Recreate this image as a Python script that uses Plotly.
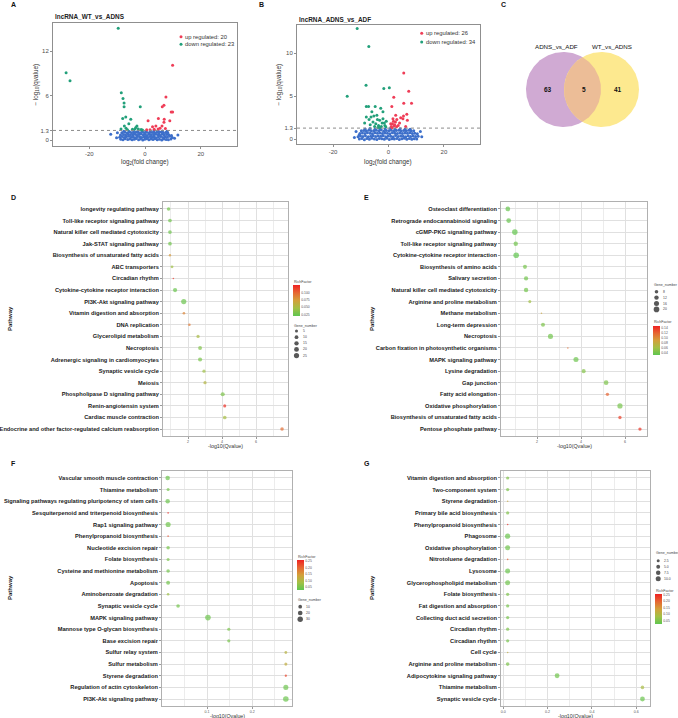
import numpy as np
import plotly.graph_objects as go

W, H = 678, 718
FONT = "Liberation Sans, Arial, sans-serif"

# ============================ DATA ============================
# ---- Panel A volcano (log2 fold change, -log10 qvalue)
a_title = "lncRNA_WT_vs_ADNS"
a_up_x = [9.9, 7.5, 6.8, 6.2, 9.9, 9.4, 4.8, 6.9, 6.8, 1.1, 3.9, 2.7, 5.4, 6.1, 4.7, 3.3, 8.9, 1.8, 7.3, 0.6]
a_up_y = [10.1, 5.8, 4.7, 4.5, 3.8, 3.8, 2.9, 2.8, 2.4, 2.6, 1.9, 1.8, 1.6, 1.9, 1.5, 1.45, 2.6, 1.4, 1.55, 1.38]
a_dn_x = [-9.6, -28.3, -26.9, -8.5, -7.9, -7.5, -7.5, -1.7, -6.9, -8.0, -5.1, -7.4, -3.3, -3.6, -6.8, -4.5,
          -2.4, -1.4, -8.6, -5.8, -2.9, -0.9, -6.3]
a_dn_y = [15.1, 9.1, 8.0, 6.4, 5.6, 5.0, 4.5, 4.5, 3.1, 2.9, 2.8, 1.9, 1.7, 1.5, 1.6, 1.45,
          1.5, 1.42, 1.5, 2.2, 1.9, 1.35, 1.38]
a_blue_x = [-8.7, -7.9, -7.1, -6.2, -5.4, -4.6, -3.8, -3.1, -2.3, -1.6, -0.8, -0.1, 0.6, 1.4, 2.1, 2.9, 3.6, 4.4, 5.2, 6.0, 6.8, 7.6, 8.4, 9.3,
            -9.1, -8.2, -7.4, -6.7, -5.9, -5.0, -4.2, -3.5, -2.7, -1.9, -1.2, -0.4, 0.3, 1.0, 1.8, 2.5, 3.3, 4.0, 4.8, 5.6, 6.4, 7.2, 8.0, 8.9, 9.8,
            -8.8, -7.7, -6.9, -6.0, -5.2, -4.4, -3.6, -2.9, -2.1, -1.4, -0.6, 0.1, 0.8, 1.6, 2.3, 3.1, 3.8, 4.6, 5.3, 6.1, 6.9, 7.8, 8.6, 9.5,
            -8.3, -7.2, -6.4, -5.5, -4.8, -3.9, -3.2, -2.5, -1.7, -0.9, -0.2, 0.5, 1.3, 2.0, 2.8, 3.5, 4.2, 5.0, 5.8, 6.6, 7.4, 8.2,
            -7.6, -5.7, -4.1, -2.6, -1.1, 0.4, 1.9, 3.2, 4.9, 6.3, 7.9,
            -12.3, 11.8, -10.2, 10.6, -9.9]
a_blue_y = [0.12, 0.05, 0.18, 0.08, 0.15, 0.03, 0.11, 0.2, 0.06, 0.14, 0.02, 0.1, 0.17, 0.04, 0.13, 0.08, 0.19, 0.06, 0.12, 0.02, 0.15, 0.09, 0.05, 0.14,
            0.38, 0.47, 0.35, 0.44, 0.5, 0.37, 0.43, 0.33, 0.48, 0.4, 0.36, 0.46, 0.42, 0.34, 0.49, 0.39, 0.45, 0.32, 0.41, 0.47, 0.36, 0.44, 0.38, 0.5, 0.35,
            0.7, 0.76, 0.66, 0.8, 0.72, 0.68, 0.78, 0.64, 0.74, 0.81, 0.69, 0.75, 0.63, 0.79, 0.71, 0.67, 0.77, 0.73, 0.65, 0.8, 0.7, 0.74, 0.68, 0.62,
            0.98, 1.05, 0.95, 1.08, 1.0, 0.96, 1.06, 1.02, 0.94, 1.09, 0.99, 1.04, 0.97, 1.07, 1.01, 0.93, 1.05, 0.99, 1.08, 0.96, 1.03, 0.95,
            1.2, 1.16, 1.24, 1.18, 1.22, 1.15, 1.21, 1.25, 1.17, 1.23, 1.19,
            0.8, 0.7, 0.3, 0.25, 1.0]

# ---- Panel B volcano
b_title = "lncRNA_ADNS_vs_ADF"
b_up_x = [5.5, 7.3, 1.9, 5.5, 8.3, 1.2, 2.6, 5.4, 6.6, 5.2, 1.6, 1.4, 2.2, 2.5, 3.5, 6.2, 4.4, 1.0, 1.8, 2.9,
          3.0, 4.0, 1.3, 2.0, 6.8, 0.8]
b_up_y = [7.7, 5.6, 4.9, 4.2, 4.2, 3.8, 2.8, 2.7, 2.9, 2.4, 2.4, 1.8, 1.7, 2.0, 1.6, 1.5, 2.5, 1.5, 2.1, 1.45,
          2.3, 1.9, 1.35, 1.55, 2.2, 1.8]
b_dn_x = [-11.3, -7.1, -8.1, -14.9, -1.7, 0.3, -8.0, -7.2, -4.8, -2.8, -8.0, -6.0, -6.3, -5.3, -4.2, -2.0, -3.2,
          -2.0, -1.5, -1.3, -7.0, -5.6, -4.6, -3.6, -2.6, -6.6, -4.0, -2.3, -5.0, -3.1, -1.0, -8.6, -0.8, -3.8]
b_dn_y = [12.9, 10.8, 6.3, 5.0, 5.9, 6.0, 3.8, 3.8, 3.8, 3.6, 2.6, 3.2, 2.6, 2.7, 2.8, 2.4, 2.2,
          3.2, 1.9, 1.6, 2.3, 2.0, 1.8, 1.6, 1.5, 1.7, 2.3, 1.9, 1.5, 1.4, 1.45, 1.9, 2.1, 1.38]
b_blue_x = [-10.5, -9.6, -8.7, -7.8, -6.9, -6.0, -5.1, -4.2, -3.3, -2.4, -1.5, -0.6, 0.3, 1.2, 2.1, 3.0, 3.9, 4.8, 5.7, 6.6, 7.5, 8.4, 9.3, 10.2,
            -11.0, -10.1, -9.2, -8.3, -7.3, -6.4, -5.5, -4.6, -3.7, -2.8, -1.9, -1.0, -0.1, 0.8, 1.7, 2.6, 3.5, 4.4, 5.3, 6.2, 7.1, 8.0, 8.9, 9.8, 10.7,
            -10.3, -9.4, -8.5, -7.6, -6.6, -5.8, -4.9, -4.0, -3.1, -2.2, -1.3, -0.4, 0.5, 1.4, 2.3, 3.2, 4.1, 5.0, 5.9, 6.8, 7.7, 8.6, 9.5, 10.4,
            -9.8, -8.9, -8.0, -7.1, -6.2, -5.3, -4.4, -3.5, -2.6, -1.7, -0.8, 0.1, 1.0, 1.9, 2.8, 3.7, 4.6, 5.5, 6.4, 7.3, 8.2, 9.1,
            -8.4, -6.7, -4.9, -3.0, -1.2, 0.6, 2.4, 4.2, 6.0, 7.8,
            -11.7, 11.5, -10.6, -12.3, 12.0]
b_blue_y = [0.02, 0.1, -0.05, 0.08, 0.0, 0.12, 0.04, -0.03, 0.09, 0.06, 0.0, 0.11, -0.02, 0.07, 0.03, 0.1, -0.04, 0.05, 0.12, 0.01, 0.08, -0.01, 0.06, 0.03,
            0.3, 0.38, 0.33, 0.4, 0.29, 0.36, 0.42, 0.31, 0.37, 0.34, 0.41, 0.28, 0.39, 0.35, 0.3, 0.43, 0.32, 0.38, 0.36, 0.29, 0.4, 0.33, 0.37, 0.31, 0.35,
            0.66, 0.72, 0.68, 0.75, 0.7, 0.64, 0.77, 0.69, 0.73, 0.67, 0.74, 0.71, 0.65, 0.76, 0.7, 0.68, 0.74, 0.66, 0.72, 0.69, 0.75, 0.67, 0.71, 0.63,
            0.98, 1.03, 0.95, 1.06, 1.0, 0.97, 1.04, 0.99, 1.07, 0.94, 1.02, 0.98, 1.05, 0.96, 1.01, 1.06, 0.97, 1.03, 0.99, 1.05, 0.95, 1.0,
            1.2, 1.24, 1.17, 1.22, 1.19, 1.25, 1.18, 1.23, 1.21, 1.16,
            0.9, 0.9, 0.5, 0.2, 0.3]

vol_xticks = [-20, 0, 20]
a_yticks = [0, 1.3, 6, 12]
b_yticks = [0, 1.3, 5, 10]
qvalue_cut = 1.3

# ---- Panel C Venn
venn_names = ["ADNS_vs_ADF", "WT_vs_ADNS"]
venn_counts = [63, 5, 41]   # left only, shared, right only

# ---- Panel D KEGG bubble
d_labels = ["longevity regulating pathway", "Toll-like receptor signaling pathway",
            "Natural killer cell mediated cytotoxicity", "Jak-STAT signaling pathway",
            "Biosynthesis of unsaturated fatty acids", "ABC transporters", "Circadian rhythm",
            "Cytokine-cytokine receptor interaction", "PI3K-Akt signaling pathway",
            "Vitamin digestion and absorption", "DNA replication", "Glycerolipid metabolism", "Necroptosis",
            "Adrenergic signaling in cardiomyocytes", "Synaptic vesicle cycle", "Meiosis",
            "Phospholipase D signaling pathway", "Renin-angiotensin system", "Cardiac muscle contraction",
            "Endocrine and other factor-regulated calcium reabsorption"]
d_q = [0.86, 0.94, 0.94, 0.94, 0.94, 1.06, 1.14, 1.24, 1.75, 1.76, 2.08, 2.59, 2.71, 2.71, 2.94, 3.00, 4.04, 4.16, 4.16, 7.53]
d_rich = [0.028, 0.027, 0.026, 0.027, 0.075, 0.045, 0.118, 0.024, 0.025, 0.085, 0.090, 0.050, 0.033, 0.030, 0.045,
          0.055, 0.032, 0.120, 0.048, 0.095]
d_genes = [8, 9, 9, 9, 2, 4, 1, 14, 25, 3, 3, 6, 11, 13, 6, 6, 13, 5, 9, 8]
d_xticks = [2, 4, 6]
d_xminor = [1, 3, 5, 7]
d_rich_ticks = [0.025, 0.050, 0.075, 0.100]
d_rich_text = ["0.025", "0.050", "0.075", "0.100"]
d_gene_breaks = [5, 10, 15, 20, 25]
d_gene_text = ["5", "10", "15", "20", "25"]

# ---- Panel E
e_labels = ["Osteoclast differentiation", "Retrograde endocannabinoid signaling", "cGMP-PKG signaling pathway",
            "Toll-like receptor signaling pathway", "Cytokine-cytokine receptor interaction",
            "Biosynthesis of amino acids", "Salivary secretion", "Natural killer cell mediated cytotoxicity",
            "Arginine and proline metabolism", "Methane metabolism", "Long-term depression", "Necroptosis",
            "Carbon fixation in photosynthetic organisms", "MAPK signaling pathway", "Lysine degradation",
            "Gap junction", "Fatty acid elongation", "Oxidative phosphorylation",
            "Biosynthesis of unsaturated fatty acids", "Pentose phosphate pathway"]
e_q = [0.67, 0.71, 0.99, 1.03, 1.05, 1.45, 1.50, 1.50, 1.67, 2.20, 2.27, 2.61, 3.40, 3.77, 4.12, 5.14, 5.20, 5.77, 5.77, 6.68]
e_rich = [0.035, 0.036, 0.034, 0.040, 0.033, 0.042, 0.040, 0.041, 0.060, 0.085, 0.045, 0.040, 0.115, 0.038, 0.048,
          0.045, 0.120, 0.042, 0.135, 0.140]
e_genes = [14, 14, 20, 12, 20, 10, 11, 12, 6, 4, 10, 16, 4, 16, 10, 14, 7, 17, 7, 7]
e_xticks = [2, 4, 6]
e_xminor = [1, 3, 5, 7]
e_rich_ticks = [0.04, 0.06, 0.08, 0.10, 0.12, 0.14]
e_rich_text = ["0.04", "0.06", "0.08", "0.10", "0.12", "0.14"]
e_gene_breaks = [8, 12, 16, 20]
e_gene_text = ["8", "12", "16", "20"]

# ---- Panel F
f_labels = ["Vascular smooth muscle contraction", "Thiamine metabolism",
            "Signaling pathways regulating pluripotency of stem cells",
            "Sesquiterpenoid and triterpenoid biosynthesis", "Rap1 signaling pathway",
            "Phenylpropanoid biosynthesis", "Nucleotide excision repair", "Folate biosynthesis",
            "Cysteine and methionine metabolism", "Apoptosis", "Aminobenzoate degradation",
            "Synaptic vesicle cycle", "MAPK signaling pathway", "Mannose type O-glycan biosynthesis",
            "Base excision repair", "Sulfur relay system", "Sulfur metabolism", "Styrene degradation",
            "Regulation of actin cytoskeleton", "PI3K-Akt signaling pathway"]
f_q = [0.013, 0.014, 0.013, 0.014, 0.014, 0.014, 0.014, 0.014, 0.014, 0.014, 0.014, 0.036, 0.102, 0.148, 0.148,
       0.274, 0.274, 0.274, 0.274, 0.274]
f_rich = [0.040, 0.045, 0.038, 0.250, 0.042, 0.220, 0.048, 0.050, 0.045, 0.045, 0.080, 0.045, 0.040, 0.050, 0.048,
          0.110, 0.120, 0.230, 0.040, 0.038]
f_genes = [18, 5, 17, 1, 26, 1, 8, 5, 9, 12, 3, 9, 33, 6, 6, 4, 5, 2, 25, 33]
f_xticks = [0.1, 0.2]
f_xminor = [0.05, 0.15, 0.25]
f_rich_ticks = [0.05, 0.10, 0.15, 0.20, 0.25]
f_rich_text = ["0.05", "0.10", "0.15", "0.20", "0.25"]
f_gene_breaks = [10, 20, 30]
f_gene_text = ["10", "20", "30"]

# ---- Panel G
g_labels = ["Vitamin digestion and absorption", "Two-component system", "Styrene degradation",
            "Primary bile acid biosynthesis", "Phenylpropanoid biosynthesis", "Phagosome",
            "Oxidative phosphorylation", "Nitrotoluene degradation", "Lysosome",
            "Glycerophospholipid metabolism", "Folate biosynthesis", "Fat digestion and absorption",
            "Collecting duct acid secretion", "Circadian rhythm", "Circadian rhythm", "Cell cycle",
            "Arginine and proline metabolism", "Adipocytokine signaling pathway", "Thiamine metabolism",
            "Synaptic vesicle cycle"]
g_q = [0.02, 0.02, 0.02, 0.02, 0.02, 0.02, 0.02, 0.02, 0.02, 0.02, 0.02, 0.02, 0.02, 0.02, 0.02, 0.02, 0.02,
       0.243, 0.628, 0.628]
g_rich = [0.05, 0.045, 0.12, 0.05, 0.24, 0.03, 0.035, 0.20, 0.03, 0.035, 0.045, 0.04, 0.04, 0.045, 0.04, 0.11,
          0.045, 0.035, 0.085, 0.03]
g_genes = [3, 3, 1, 3, 1, 11, 10, 1, 10, 10, 3, 3, 3, 3, 3, 1, 4, 9, 4, 9]
g_xticks = [0.0, 0.2, 0.4, 0.6]
g_xminor = [0.1, 0.3, 0.5]
g_rich_ticks = [0.05, 0.10, 0.15, 0.20, 0.25]
g_rich_text = ["0.05", "0.10", "0.15", "0.20", "0.25"]
g_gene_breaks = [2.5, 5.0, 7.5, 10.0]
g_gene_text = ["2.5", "5.0", "7.5", "10.0"]

# ============================ STYLE ============================
BLUE, GREEN, RED = "#3d6fca", "#22a07a", "#ef3d57"
RICH_SCALE = [[0.0, "#5fc650"], [0.25, "#a3c046"], [0.5, "#d3a03a"], [0.75, "#e66632"], [1.0, "#ef2222"]]
BORDER = "#b0b0b0"
GRID = "#e0e0e0"
GRID_MINOR = "#ececec"
V_PURPLE, V_YELLOW, V_LENS = "#d0aad3", "#fde98f", "#ecbd97"
DMIN = 1.6

fig = go.Figure()
layout = {}
annotations = []
shapes = []


def X(p):
    return p / W


def Y(p):
    return 1 - p / H


def sfx(n):
    return "" if n == 1 else str(n)


def text(x, y, s, size, anchor="center", color="#222", angle=0, bold=False):
    annotations.append(dict(x=X(x), y=Y(y), xref="paper", yref="paper", text=s, showarrow=False,
                            xanchor=anchor, yanchor="middle", textangle=angle, borderpad=0,
                            font=dict(family=FONT, size=size, color=color,
                                      weight="bold" if bold else "normal")))


def overlay(xs, ys, **kw):
    fig.add_trace(go.Scatter(x=list(xs), y=list(ys), xaxis="x8", yaxis="y8", hoverinfo="skip", **kw))


def vol_axis(**kw):
    d = dict(showline=True, mirror=True, linecolor="#8f8f8f", linewidth=1, ticks="outside", ticklen=2,
             tickwidth=1, tickcolor="#8f8f8f", tickfont=dict(family=FONT, size=6, color="#4d4d4d"),
             showgrid=False, zeroline=False, fixedrange=True)
    d.update(kw)
    return d


def volcano(n, box, xr, yr, yt, blue, up, dn, title, title_y, leg, ytitle_x):
    x0, y0, x1, y1 = box
    s = sfx(n)
    layout["xaxis" + s] = vol_axis(domain=[X(x0), X(x1)], range=xr, anchor="y" + s,
                                   tickvals=vol_xticks, ticktext=[str(v) for v in vol_xticks])
    layout["yaxis" + s] = vol_axis(domain=[Y(y1), Y(y0)], range=yr, anchor="x" + s,
                                   tickvals=yt, ticktext=[f"{v:g}" for v in yt])
    for (xs, ys), c in ((blue, BLUE), (dn, GREEN), (up, RED)):
        fig.add_trace(go.Scatter(x=xs, y=ys, mode="markers", marker=dict(size=3, color=c),
                                 xaxis="x" + s, yaxis="y" + s, hoverinfo="skip"))
    shapes.append(dict(type="line", xref=f"x{s} domain", x0=0, x1=1, yref="y" + s, y0=qvalue_cut,
                       y1=qvalue_cut, line=dict(color="#8c8c8c", width=1, dash="dot")))
    text(x0 + 1, title_y, title, 6.4, anchor="left", bold=True, color="#222")
    text(ytitle_x, (y0 + y1) / 2, "− log<sub>10</sub>(qvalue)", 6.3, angle=-90, color="#333")
    text((x0 + x1) / 2, 162, "log<sub>2</sub>(fold change)", 6.3, color="#333")
    lx, ly, dy = leg
    overlay([lx, lx], [ly, ly + dy], mode="markers", marker=dict(size=3, color=[RED, GREEN]))
    text(lx + 3.5, ly, f"up regulated: {len(up[0])}", 5.8, anchor="left", color="#333")
    text(lx + 3.5, ly + dy, f"down regulated: {len(dn[0])}", 5.8, anchor="left", color="#333")


def size_fn(g, gmin, gmax, dmax):
    g = np.asarray(g, float)
    return DMIN + np.sqrt(np.clip((g - gmin) / (gmax - gmin), 0, None)) * (dmax - DMIN)


def bubble(n, box, xr, xt, xtl, xminor, labels, q, rf, gn, cax, dmax):
    x0, y0, x1, y1 = box
    s = sfx(n)
    rows = list(range(1, len(labels) + 1))
    layout["xaxis" + s] = dict(domain=[X(x0), X(x1)], range=xr, anchor="y" + s, tickvals=xt, ticktext=xtl,
                               showline=True, mirror=True, linecolor=BORDER, linewidth=1, ticks="outside",
                               ticklen=2, tickcolor="#9a9a9a",
                               tickfont=dict(family=FONT, size=3.6, color="#555"),
                               showgrid=True, gridcolor=GRID, gridwidth=1,
                               minor=dict(tickvals=xminor, showgrid=True, gridcolor=GRID_MINOR, gridwidth=0.6, ticks=""),
                               zeroline=False, fixedrange=True)
    layout["yaxis" + s] = dict(domain=[Y(y1), Y(y0)], range=[len(labels) + 0.6, 0.4], anchor="x" + s,
                               tickvals=rows, ticktext=labels, showline=True, mirror=True, linecolor=BORDER,
                               linewidth=1, ticks="outside", ticklen=2, tickcolor="#9a9a9a",
                               tickfont=dict(family=FONT, size=5.7, color="#1a1a1a", weight="bold"),
                               showgrid=True, gridcolor=GRID, gridwidth=1, zeroline=False, fixedrange=True)
    fig.add_trace(go.Scatter(x=q, y=rows, mode="markers",
                             marker=dict(size=size_fn(gn, min(gn), max(gn), dmax), color=rf, coloraxis=cax,
                                         line=dict(width=0)),
                             xaxis="x" + s, yaxis="y" + s, hoverinfo="skip"))
    text((x0 + x1) / 2, y1 + 10.3, "-log10(Qvalue)", 5.3, color="#333")


def rich_bar(cax, x, top, bottom, crange, tv, tt):
    layout[cax] = dict(cmin=crange[0], cmax=crange[1], colorscale=RICH_SCALE,
                       colorbar=dict(x=X(x), xanchor="left", y=Y(top), yanchor="top", lenmode="pixels",
                                     len=bottom - top, thicknessmode="pixels", thickness=6.5, outlinewidth=0,
                                     xpad=0, ypad=0, tickvals=tv, ticktext=tt, ticks="", ticklen=0,
                                     tickfont=dict(family=FONT, size=3.4, color="#555")))
    text(x, top - 3.5, "RichFactor", 3.6, anchor="left", color="#444")


def gene_legend(x, title_y, first_y, step, breaks, labels, gn, dmax):
    text(x, title_y, "Gene_number", 3.6, anchor="left", color="#444")
    ys = [first_y + i * step for i in range(len(breaks))]
    overlay([x + 3.5] * len(breaks), ys, mode="markers",
            marker=dict(size=size_fn(breaks, min(gn), max(gn), dmax), color="#111", line=dict(width=0)))
    for yy, lab in zip(ys, labels):
        text(x + 8.5, yy, lab, 3.4, anchor="left", color="#444")


# ============================ BUILD ============================
# overlay axis in pixel units (legend glyphs, Venn)
layout["xaxis8"] = dict(domain=[0, 1], range=[0, W], visible=False, fixedrange=True, anchor="y8")
layout["yaxis8"] = dict(domain=[0, 1], range=[H, 0], visible=False, fixedrange=True, anchor="x8")

volcano(1, (53, 23, 237, 146), [-33, 33], [-0.8, 15.8], a_yticks, (a_blue_x, a_blue_y),
        (a_up_x, a_up_y), (a_dn_x, a_dn_y), a_title, 17, (181, 36.7, 7.6), 35)
volcano(2, (297, 25, 480, 144), [-33, 33], [-0.55, 13.3], b_yticks, (b_blue_x, b_blue_y),
        (b_up_x, b_up_y), (b_dn_x, b_dn_y), b_title, 19, (421.7, 33.3, 8.7), 278)

# Venn (panel C)
cy, r = 89.5, 37.5
cxl, cxr = 563.5, 601.5
t = np.linspace(0, 2 * np.pi, 241)
for cx, col in ((cxl, V_PURPLE), (cxr, V_YELLOW)):
    overlay(cx + r * np.cos(t), cy + r * np.sin(t), mode="lines", fill="toself", fillcolor=col,
            line=dict(width=0, color=col))
phi = np.arccos((cxr - cxl) / (2 * r))
a1 = np.linspace(-phi, phi, 80)
a2 = np.linspace(np.pi - phi, np.pi + phi, 80)
overlay(np.concatenate([cxl + r * np.cos(a1), cxr + r * np.cos(a2)]),
        np.concatenate([cy + r * np.sin(a1), cy + r * np.sin(a2)]),
        mode="lines", fill="toself", fillcolor=V_LENS, line=dict(width=0, color=V_LENS))
text(556.7, 46.7, venn_names[0], 6.2, color="#111")
text(611.7, 46.7, venn_names[1], 6.2, color="#111")
text(548.3, 89, str(venn_counts[0]), 6.5, color="#111", bold=True)
text(584, 89, str(venn_counts[1]), 6.5, color="#111", bold=True)
text(618.3, 89, str(venn_counts[2]), 6.5, color="#111", bold=True)

# bubble panels
bubble(4, (163, 202, 288, 436), [0.53, 7.88], d_xticks, [str(v) for v in d_xticks], d_xminor,
       d_labels, d_q, d_rich, d_genes, "coloraxis", 5.2)
bubble(5, (501, 202, 647, 436), [0.36, 7.0], e_xticks, [str(v) for v in e_xticks], e_xminor,
       e_labels, e_q, e_rich, e_genes, "coloraxis2", 5.6)
bubble(6, (162, 471, 292, 706), [0.0005, 0.2876], f_xticks, [f"{v:.1f}" for v in f_xticks], f_xminor,
       f_labels, f_q, f_rich, f_genes, "coloraxis3", 5.6)
bubble(7, (501, 471, 650, 706), [-0.01, 0.662], g_xticks, [f"{v:.1f}" for v in g_xticks], g_xminor,
       g_labels, g_q, g_rich, g_genes, "coloraxis4", 5.2)

rich_bar("coloraxis", 293, 285, 315.7, [0.020, 0.125], d_rich_ticks, d_rich_text)
gene_legend(293, 325.5, 331, 6.15, d_gene_breaks, d_gene_text, d_genes, 5.2)

gene_legend(653, 285, 291.7, 5.9, e_gene_breaks, e_gene_text, e_genes, 5.6)
rich_bar("coloraxis2", 653, 325.7, 355, [0.032, 0.147], e_rich_ticks, e_rich_text)

rich_bar("coloraxis3", 296.7, 560, 590, [0.027, 0.258], f_rich_ticks, f_rich_text)
gene_legend(296.7, 600, 606.7, 6.3, f_gene_breaks, f_gene_text, f_genes, 5.6)

gene_legend(654.7, 553.3, 560.7, 6.0, g_gene_breaks, g_gene_text, g_genes, 5.2)
rich_bar("coloraxis4", 654.7, 594.3, 624, [0.02, 0.25], g_rich_ticks, g_rich_text)

# "Pathway" titles
for px_, py_ in ((10, 319), (372, 319), (10, 588), (372, 588)):
    text(px_, py_, "Pathway", 6, angle=-90, bold=True, color="#1a1a1a")

# panel letters
for letter, lx, ly in (("A", 13.3, 4), ("B", 261.7, 4), ("C", 503.3, 4), ("D", 13.3, 197.3),
                       ("E", 366.3, 197.3), ("F", 13.3, 463.3), ("G", 367, 463.3)):
    text(lx, ly, letter, 7, bold=True, color="#111")

fig.update_layout(width=W, height=H, margin=dict(l=0, r=0, t=0, b=0), paper_bgcolor="white",
                  plot_bgcolor="rgba(0,0,0,0)", showlegend=False, font=dict(family=FONT, color="#222"),
                  annotations=annotations, shapes=shapes, **layout)
fig.write_html("out.html", config={"displayModeBar": False},
               post_script="document.body.style.margin='0';document.body.style.overflow='hidden';")
